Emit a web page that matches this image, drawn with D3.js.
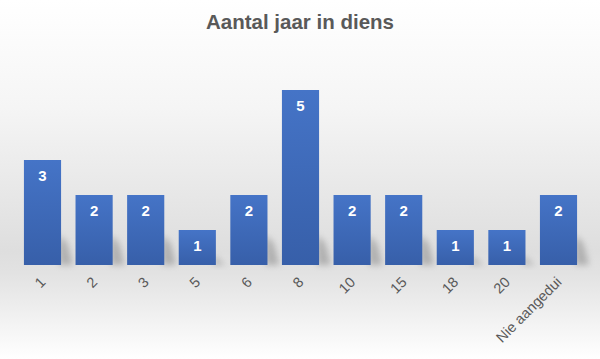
<!DOCTYPE html>
<html><head><meta charset="utf-8">
<script src="https://cdn.jsdelivr.net/npm/d3@7"></script>
<style>body{margin:0;}svg{display:block;}</style>
</head><body>
<div id="chart"></div>
<script>
const categories = ["1","2","3","5","6","8","10","15","18","20","Nie aangedui"];
const values = [3,2,2,1,2,5,2,2,1,1,2];
const title = "Aantal jaar in diens";

const W = 600, H = 359;
const svg = d3.select("#chart").append("svg").attr("width", W).attr("height", H);
const defs = svg.append("defs");

const bg = defs.append("linearGradient").attr("id","bg").attr("x1",0).attr("y1",0).attr("x2",0).attr("y2",1);
bg.append("stop").attr("offset","0%").attr("stop-color","#ffffff");
bg.append("stop").attr("offset","30%").attr("stop-color","#f5f5f5");
bg.append("stop").attr("offset","70%").attr("stop-color","#dedede");
bg.append("stop").attr("offset","76%").attr("stop-color","#e2e2e2");
bg.append("stop").attr("offset","100%").attr("stop-color","#ffffff");

const bar = defs.append("linearGradient").attr("id","bar").attr("x1",0).attr("y1",0).attr("x2",0).attr("y2",1);
bar.append("stop").attr("offset","0%").attr("stop-color","#4574c7");
bar.append("stop").attr("offset","100%").attr("stop-color","#375fa9");

const blur = defs.append("filter").attr("id","blur").attr("x","-50%").attr("y","-50%").attr("width","200%").attr("height","200%");
blur.append("feGaussianBlur").attr("stdDeviation",3);

svg.append("rect").attr("width",W).attr("height",H).attr("fill","url(#bg)");

svg.append("text").attr("x",300).attr("y",29).attr("text-anchor","middle")
  .attr("font-family","Liberation Sans, Arial, sans-serif").attr("font-weight","bold")
  .attr("font-size",20.5).attr("fill","#595959").text(title);

const x = d3.scaleBand().domain(categories).range([16.7, 584.3]).paddingInner(0.28).paddingOuter(0.14);
const y = d3.scaleLinear().domain([0,5]).range([265, 90]);

const g = svg.append("g");
g.selectAll("path.shadow").data(values).join("path").attr("class","shadow")
  .attr("d",(d,i)=>{
    const x1 = x(categories[i]) + x.bandwidth();
    const yt = Math.max(y(d) + 25, 235);
    return `M${x1-2},265 L${x1-2},${yt} L${x1+6},${yt+8} L${x1+12},265 Z`;
  })
  .attr("fill","#8a8a8a").attr("opacity",0.55).attr("filter","url(#blur)");

g.selectAll("rect.bar").data(values).join("rect").attr("class","bar")
  .attr("x",(d,i)=>x(categories[i])).attr("width",x.bandwidth())
  .attr("y",d=>y(d)).attr("height",d=>y(0)-y(d)).attr("fill","url(#bar)");

g.selectAll("text.val").data(values).join("text").attr("class","val")
  .attr("x",(d,i)=>x(categories[i])+x.bandwidth()/2).attr("y",d=>y(d)+21)
  .attr("text-anchor","middle").attr("font-family","Liberation Sans, Arial, sans-serif")
  .attr("font-weight","bold").attr("font-size",15).attr("fill","#ffffff").text(d=>d);

const axis = d3.axisBottom(x).tickSize(0).tickPadding(0);
const ax = svg.append("g").attr("transform","translate(0,265)").call(axis);
ax.select(".domain").remove();
ax.selectAll("text").attr("font-family","Liberation Sans, Arial, sans-serif").attr("font-size",14.5)
  .attr("fill","#595959").attr("text-anchor","end").attr("dy",0)
  .attr("transform","translate(4,18) rotate(-45)");
</script>
</body></html>
